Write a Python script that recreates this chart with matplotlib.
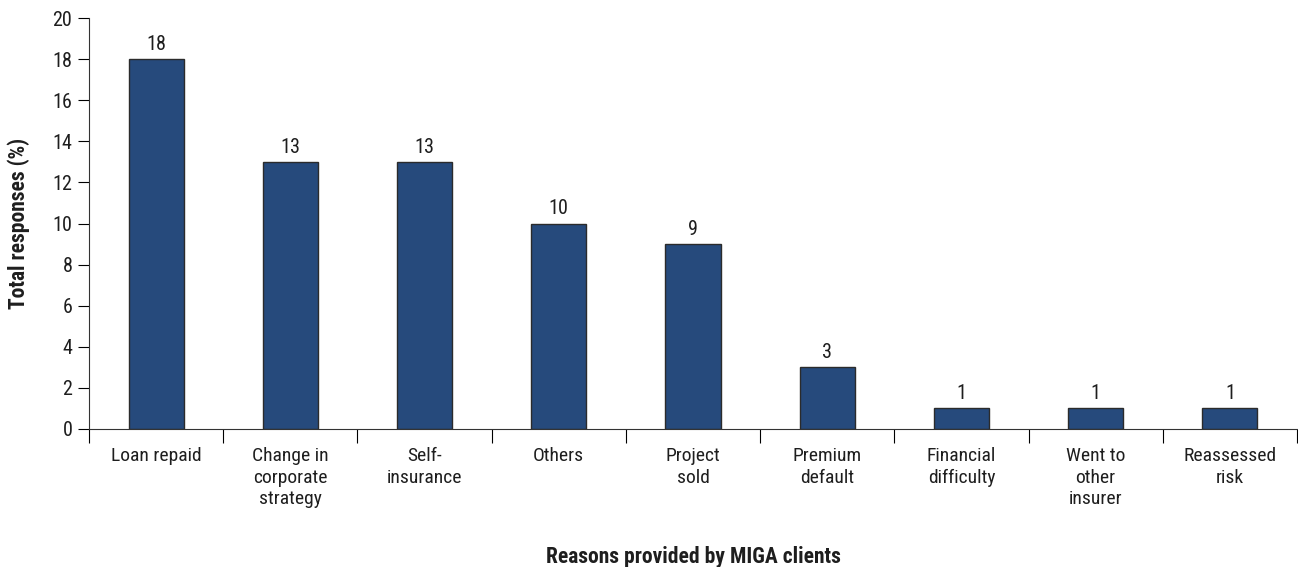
import numpy as np
import matplotlib.pyplot as plt
from matplotlib import font_manager

categories = ["Loan repaid", "Change in\ncorporate\nstrategy", "Self-\ninsurance", "Others",
              "Project\nsold", "Premium\ndefault", "Financial\ndifficulty", "Went to\nother\ninsurer",
              "Reassessed\nrisk"]
values = [18, 13, 13, 10, 9, 3, 1, 1, 1]

# prefer a narrow face, the original uses a condensed sans
fonts = font_manager.fontManager.ttflist
names = {f.name for f in fonts}
fam, stretch = "Roboto", "normal"
for cand in ["Roboto Condensed", "Liberation Sans Narrow", "Arial Narrow", "DejaVu Sans Condensed"]:
    if cand in names:
        fam = cand
        break
else:
    for f in fonts:
        if f.name in ("Roboto", "DejaVu Sans", "Noto Sans", "Open Sans") and \
                str(f.stretch) in ("condensed", "semi-condensed", "75", "87"):
            fam, stretch = f.name, "condensed"
            break
plt.rcParams['font.family'] = [fam, 'DejaVu Sans']
plt.rcParams['font.stretch'] = stretch

fs = 14
fs_num = 14.5
fs_bold = 15.5
txt = "#1e1e1e"
fig = plt.figure(figsize=(12.98, 5.67), dpi=100)
ax = fig.add_axes([89/1298, 1 - 429/567, (1297-89)/1298, (429-18)/567])

x = np.arange(len(categories))
ax.bar(x, values, width=0.41, color="#264A7C", edgecolor="#2b2b2b", linewidth=1)
for xi, v in zip(x, values):
    ax.text(xi, v + 0.25, str(v), ha="center", va="bottom", fontsize=fs_num, color=txt)

ax.set_xlim(-0.5, len(categories) - 0.5)
ax.set_ylim(0, 20)
ax.set_yticks(range(0, 21, 2))
ax.tick_params(axis="y", direction="out", length=8, labelsize=fs_num, pad=4, labelcolor=txt)

ax.set_xticks(np.arange(-0.5, len(categories), 1))
ax.set_xticklabels([])
ax.tick_params(axis="x", which="major", direction="out", length=10)
ax.set_xticks(x, minor=True)
ax.set_xticklabels(categories, minor=True, fontsize=fs, linespacing=1.25, va="top", color=txt)
ax.tick_params(axis="x", which="minor", length=0, pad=13)

for s in ["top", "right"]:
    ax.spines[s].set_visible(False)
ax.spines["left"].set_color("#333333")
ax.spines["bottom"].set_color("#333333")

ax.set_ylabel("Total responses (%)", fontsize=fs_bold, fontweight="bold", labelpad=16, color=txt)
fig.text((89 + 1297) / 2 / 1298, 1 - 557/567, "Reasons provided by MIGA clients",
         ha="center", va="center", fontsize=fs_bold, fontweight="bold", color=txt)

fig.savefig("out.png", dpi=100)
